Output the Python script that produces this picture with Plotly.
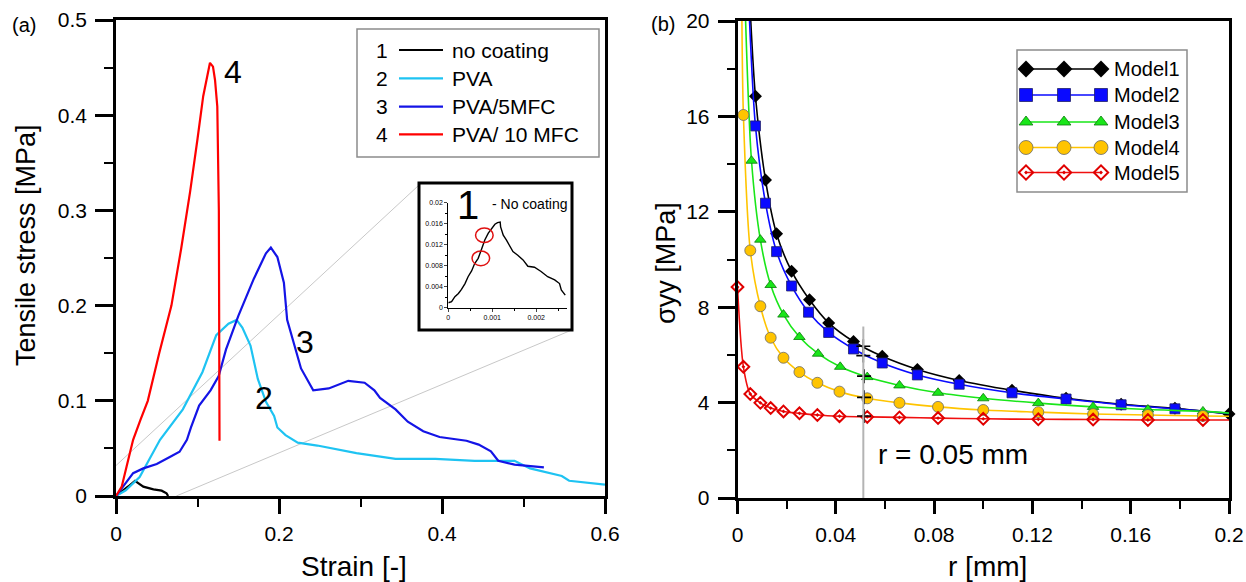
import plotly.graph_objects as go

W, H = 1246, 582
FONT = "Liberation Sans, Arial, sans-serif"

# ---------------- Panel (a): tensile curves ----------------
strain_1 = [0, 0.008, 0.015, 0.0233, 0.027, 0.0335, 0.046, 0.056, 0.062, 0.064]
stress_1 = [0, 0.005, 0.010, 0.016, 0.014, 0.0098, 0.007, 0.0056, 0.0028, 0.0]

strain_2 = [0, 0.012, 0.029, 0.054, 0.082, 0.106, 0.123, 0.138, 0.148, 0.155, 0.165,
            0.174, 0.184, 0.194, 0.198, 0.208, 0.223, 0.247, 0.295, 0.343, 0.392,
            0.44, 0.489, 0.508, 0.547, 0.556, 0.6]
stress_2 = [0, 0.006, 0.020, 0.059, 0.091, 0.130, 0.169, 0.181, 0.185, 0.177, 0.158,
            0.123, 0.099, 0.084, 0.072, 0.064, 0.056, 0.053, 0.045, 0.039, 0.039,
            0.037, 0.037, 0.029, 0.021, 0.016, 0.012]

strain_3 = [0, 0.009, 0.021, 0.0335, 0.05, 0.066, 0.078, 0.087, 0.092, 0.102, 0.116,
            0.126, 0.135, 0.15, 0.169, 0.184, 0.19, 0.198, 0.206, 0.21, 0.218, 0.227,
            0.242, 0.261, 0.285, 0.305, 0.317, 0.324, 0.343, 0.358, 0.377, 0.397,
            0.43, 0.445, 0.46, 0.469, 0.489, 0.525]
stress_3 = [0, 0.0098, 0.024, 0.029, 0.0336, 0.041, 0.0465, 0.059, 0.072, 0.095, 0.111,
            0.126, 0.154, 0.189, 0.228, 0.255, 0.261, 0.251, 0.224, 0.185, 0.161, 0.134,
            0.111, 0.113, 0.121, 0.119, 0.111, 0.103, 0.091, 0.078, 0.068, 0.062,
            0.058, 0.054, 0.047, 0.037, 0.033, 0.030]

strain_4 = [0, 0.007, 0.013, 0.021, 0.030, 0.039, 0.053, 0.068, 0.080, 0.091, 0.100,
            0.107, 0.1153, 0.119, 0.1215, 0.1243, 0.1262, 0.127]
stress_4 = [0, 0.0098, 0.031, 0.059, 0.080, 0.100, 0.150, 0.200, 0.260, 0.320, 0.375,
            0.420, 0.455, 0.451, 0.437, 0.409, 0.300, 0.058]

labels_a = ["no coating", "PVA", "PVA/5MFC", "PVA/ 10 MFC"]
numbers_a = ["1", "2", "3", "4"]
colors_a = ["#000000", "#1EC3F2", "#1414E6", "#FF0000"]

# curve number labels placed in the plot (data coords)
curve_tag_x = [0.1436, 0.232, 0.1814]
curve_tag_y = [0.4457, 0.1615, 0.103]
curve_tag_t = ["4", "3", "2"]

# inset: no coating, zoomed
inset_strain = [0, 0.000075, 0.00015, 0.00023, 0.0003, 0.00038, 0.00045, 0.00053, 0.0006,
                0.00068, 0.00075, 0.00083, 0.00091, 0.001, 0.00106, 0.00112, 0.00118,
                0.00119, 0.00125, 0.00132, 0.0014, 0.00147, 0.00158, 0.0017, 0.00181,
                0.00196, 0.00211, 0.00226, 0.00242, 0.00253, 0.00257, 0.00266]
inset_stress = [0.00095, 0.00114, 0.0021, 0.0027, 0.0035, 0.0046, 0.0059, 0.007, 0.0084,
                0.0094, 0.011, 0.0129, 0.0142, 0.0151, 0.0159, 0.0162, 0.0163,
                0.0154, 0.0138, 0.0129, 0.0116, 0.0107, 0.0100, 0.0091, 0.0079,
                0.0077, 0.0069, 0.0059, 0.0053, 0.0046, 0.0034, 0.0024]
inset_circle_x = [0.00074, 0.00082]
inset_circle_y = [0.0094, 0.0138]
inset_circle_rx = 0.0002
inset_circle_ry = 0.0014

# zoom connector lines (data coords of panel a)
connector_x = [[0.0, 0.371], [0.074, 0.561]]
connector_y = [[0.032, 0.326], [0.0, 0.175]]

# ---------------- Panel (b): sigma_yy vs r ----------------
m1_r = [0.0073, 0.0114, 0.0159, 0.022, 0.0293, 0.0371, 0.0472, 0.0589, 0.0732, 0.0902,
        0.1117, 0.1337, 0.1561, 0.178, 0.2]
m1_s = [16.85, 13.33, 11.08, 9.51, 8.31, 7.34, 6.56, 5.94, 5.39, 4.93, 4.52, 4.18, 3.93,
        3.76, 3.52]
m1_line_r = [0.0054] + m1_r
m1_line_s = [20.0] + m1_s

m2_r = [0.0073, 0.0114, 0.0159, 0.022, 0.0289, 0.0371, 0.0472, 0.0589, 0.0732, 0.0902,
        0.1117, 0.1337, 0.1561, 0.178]
m2_s = [15.6, 12.36, 10.33, 8.89, 7.79, 6.94, 6.25, 5.66, 5.16, 4.77, 4.41, 4.15, 3.91, 3.74]
m2_line_r = [0.0049] + m2_r + [0.2]
m2_line_s = [20.0] + m2_s + [3.55]

m3_r = [0.0057, 0.0093, 0.0135, 0.0187, 0.0252, 0.0328, 0.0418, 0.0528, 0.0659, 0.0816,
        0.1, 0.1224, 0.1447, 0.167, 0.1894]
m3_s = [14.14, 10.83, 8.93, 7.69, 6.75, 6.05, 5.5, 5.07, 4.72, 4.41, 4.18, 3.98, 3.82,
        3.71, 3.63]
m3_line_r = [0.0033] + m3_r + [0.2]
m3_line_s = [20.0] + m3_s + [3.56]

m4_r = [0.0024, 0.0052, 0.0093, 0.0135, 0.0187, 0.0252, 0.0325, 0.0415, 0.0528, 0.0659,
        0.0816, 0.1, 0.1224, 0.1447, 0.167, 0.1894]
m4_s = [16.06, 10.38, 8.04, 6.72, 5.88, 5.28, 4.83, 4.46, 4.18, 3.99, 3.82, 3.69, 3.6,
        3.52, 3.48, 3.44]
m4_line_r = [0.0018] + m4_r + [0.2]
m4_line_s = [20.0] + m4_s + [3.43]

m5_r = [0.0, 0.0024, 0.0052, 0.0093, 0.0135, 0.0187, 0.0252, 0.0325, 0.0415, 0.0528,
        0.0659, 0.0816, 0.1, 0.1224, 0.1447, 0.167, 0.1894]
m5_s = [8.85, 5.5, 4.36, 3.99, 3.77, 3.63, 3.55, 3.48, 3.43, 3.4, 3.38, 3.35, 3.32, 3.3,
        3.29, 3.27, 3.27]
m5_line_r = m5_r + [0.2]
m5_line_s = m5_s + [3.27]

cross_r = [0.0512, 0.0512, 0.0515, 0.0515, 0.0515]
cross_s = [6.36, 5.97, 5.11, 4.22, 3.44]

ref_r = 0.0512
ref_top = 7.19

model_names = ["Model1", "Model2", "Model3", "Model4", "Model5"]

# ---------------- helpers (pixel -> paper) ----------------
def px(x):
    return x / W


def py(y):
    return 1 - y / H


fig = go.Figure()

# panel (a) curves
for xs, ys, c in zip([strain_1, strain_2, strain_3, strain_4],
                     [stress_1, stress_2, stress_3, stress_4], colors_a):
    fig.add_trace(go.Scatter(x=xs, y=ys, mode="lines", line=dict(color=c, width=2.2),
                             xaxis="x", yaxis="y", showlegend=False, hoverinfo="skip"))

# inset
fig.add_trace(go.Scatter(x=inset_strain, y=inset_stress, mode="lines",
                         line=dict(color="black", width=1.4), xaxis="x3", yaxis="y3",
                         showlegend=False))

# panel (b) curves
styles = [
    dict(color="#000000", line="#000000", symbol="diamond", size=10, mline=dict(width=0)),
    dict(color="#0A0AFF", line="#0A0AFF", symbol="square", size=10,
         mline=dict(width=0.8, color="#20206A")),
    dict(color="#19E619", line="#19E619", symbol="triangle-up", size=10,
         mline=dict(width=0.8, color="#0A7A0A")),
    dict(color="#FFC400", line="#FFC400", symbol="circle", size=11,
         mline=dict(width=0.8, color="#6A6A6A")),
    dict(color="#E00000", line="#F01010", symbol="diamond-open-dot", size=9,
         mline=dict(width=2, color="#E00000")),
]
line_sets = [(m1_line_r, m1_line_s), (m2_line_r, m2_line_s), (m3_line_r, m3_line_s),
             (m4_line_r, m4_line_s), (m5_line_r, m5_line_s)]
mark_sets = [(m1_r, m1_s), (m2_r, m2_s), (m3_r, m3_s), (m4_r, m4_s), (m5_r, m5_s)]

for (lr, ls), (mr, ms), st in zip(line_sets, mark_sets, styles):
    fig.add_trace(go.Scatter(x=lr, y=ls, mode="lines",
                             line=dict(color=st["line"], width=1.6, shape="spline",
                                       smoothing=0.8),
                             xaxis="x2", yaxis="y2", showlegend=False))
    fig.add_trace(go.Scatter(x=mr, y=ms, mode="markers", cliponaxis=False,
                             marker=dict(symbol=st["symbol"], size=st["size"],
                                         color=st["color"], line=st["mline"]),
                             xaxis="x2", yaxis="y2", showlegend=False))

fig.add_trace(go.Scatter(x=cross_r, y=cross_s, mode="markers",
                         marker=dict(symbol="cross-thin", size=10,
                                     line=dict(width=1.6, color="black")),
                         xaxis="x2", yaxis="y2", showlegend=False))

# ---------------- pixel-space overlay (legends / decorations) ----------------
# right legend samples
leg_b_x = [1026, 1064, 1101]
leg_b_y = [69, 95, 122, 147.5, 172.5]
leg_sizes = [13, 13, 12, 14, 11]
for st, yy, sz in zip(styles, leg_b_y, leg_sizes):
    fig.add_trace(go.Scatter(x=leg_b_x, y=[yy] * 3, mode="lines+markers",
                             line=dict(color=st["line"], width=1.6),
                             marker=dict(symbol=st["symbol"], size=sz, color=st["color"],
                                         line=st["mline"]),
                             xaxis="x4", yaxis="y4", showlegend=False, cliponaxis=False))
# left legend samples
leg_a_y = [50, 78.3, 106.7, 134.3]
for c, yy in zip(colors_a, leg_a_y):
    fig.add_trace(go.Scatter(x=[399, 443], y=[yy, yy], mode="lines",
                             line=dict(color=c, width=2.2),
                             xaxis="x4", yaxis="y4", showlegend=False))

axis_common = dict(showline=True, linecolor="black", showgrid=False, zeroline=False,
                   ticks="outside", tickcolor="black", automargin=False,
                   tickfont=dict(family=FONT, size=21, color="black"))

fig.update_layout(
    template="none",
    width=W, height=H,
    margin=dict(l=0, r=0, t=0, b=0, pad=0),
    paper_bgcolor="white", plot_bgcolor="rgba(0,0,0,0)",
    font=dict(family=FONT, color="black"),
    showlegend=False,
    xaxis=dict(domain=[px(116), px(605)], range=[0, 0.6], anchor="y",
               tickvals=[0, 0.2, 0.4, 0.6], ticklen=15, tickwidth=2.5, linewidth=2.5,
               mirror=True, ticklabelstandoff=2,
               minor=dict(tickvals=[0.1, 0.3, 0.5], ticklen=8, tickwidth=2,
                          ticks="outside", tickcolor="black"),
               **axis_common),
    yaxis=dict(domain=[py(496), py(20)], range=[0, 0.5], anchor="x",
               dtick=0.1, ticklen=18, tickwidth=2.5, linewidth=2.5, mirror=True,
               ticklabelstandoff=4,
               minor=dict(dtick=0.05, ticklen=9, tickwidth=2, ticks="outside",
                          tickcolor="black"),
               **axis_common),
    xaxis2=dict(domain=[px(737.5), px(1229)], range=[0, 0.2], anchor="y2",
                dtick=0.04, ticklen=13, tickwidth=2.5, linewidth=2.5, mirror=True,
                ticklabelstandoff=3,
                minor=dict(dtick=0.02, ticklen=8, tickwidth=2, ticks="outside",
                           tickcolor="black"),
                **axis_common),
    yaxis2=dict(domain=[py(498), py(21)], range=[0, 20], anchor="x2",
                dtick=4, ticklen=17, tickwidth=2.5, linewidth=2.5, mirror=True,
                ticklabelstandoff=4,
                minor=dict(dtick=2, ticklen=8, tickwidth=2, ticks="outside",
                           tickcolor="black"),
                **axis_common),
    xaxis3=dict(domain=[px(448.3), px(567)], range=[0, 0.0027], anchor="y3",
                showline=True, linecolor="black", linewidth=1, showgrid=False,
                zeroline=False, ticks="outside", ticklen=3, tickwidth=1, automargin=False,
                tickvals=[0, 0.001, 0.002], ticktext=["0", "0.001", "0.002"],
                minor=dict(tickvals=[0.0005, 0.0015, 0.0025], ticklen=2, ticks="outside",
                           tickcolor="black"),
                tickfont=dict(family=FONT, size=7, color="black")),
    yaxis3=dict(domain=[py(307.7), py(202.7)], range=[0, 0.02], anchor="x3",
                showline=True, linecolor="black", linewidth=1, showgrid=False,
                zeroline=False, ticks="outside", ticklen=3, tickwidth=1, automargin=False,
                tickvals=[0, 0.004, 0.008, 0.012, 0.016, 0.02],
                ticktext=["0", "0.004", "0.008", "0.012", "0.016", "0.02"],
                minor=dict(dtick=0.002, ticklen=2, ticks="outside", tickcolor="black"),
                tickfont=dict(family=FONT, size=7, color="black")),
    xaxis4=dict(domain=[0, 1], range=[0, W], anchor="y4", visible=False, fixedrange=True,
                automargin=False),
    yaxis4=dict(domain=[0, 1], range=[H, 0], anchor="x4", visible=False, fixedrange=True,
                automargin=False),
)

shapes = []
# connector lines
for cx, cy in zip(connector_x, connector_y):
    shapes.append(dict(type="line", xref="x", yref="y", x0=cx[0], y0=cy[0], x1=cx[1],
                       y1=cy[1], line=dict(color="#C8C8C8", width=1), layer="below"))
# inset frame
shapes.append(dict(type="rect", xref="x4", yref="y4", x0=419, y0=183, x1=572, y1=330,
                   line=dict(color="black", width=3)))
# legend boxes
shapes.append(dict(type="rect", xref="x4", yref="y4", x0=357, y0=29, x1=599, y1=157,
                   line=dict(color="#8C8C8C", width=1.5)))
shapes.append(dict(type="rect", xref="x4", yref="y4", x0=1017, y0=50, x1=1187, y1=192,
                   line=dict(color="#8C8C8C", width=1.5)))
# inset red circles
for cx, cy in zip(inset_circle_x, inset_circle_y):
    shapes.append(dict(type="circle", xref="x3", yref="y3",
                       x0=cx - inset_circle_rx, x1=cx + inset_circle_rx,
                       y0=cy - inset_circle_ry, y1=cy + inset_circle_ry,
                       line=dict(color="#E01010", width=1.5)))
# reference line r = 0.05 mm
shapes.append(dict(type="line", xref="x2", yref="y2", x0=ref_r, x1=ref_r, y0=0,
                   y1=ref_top, line=dict(color="#B4B4B4", width=2)))
fig.update_layout(shapes=shapes)

ann = []


def text(x, y, t, size, xref="x4", yref="y4", xanchor="center", angle=0):
    ann.append(dict(x=x, y=y, xref=xref, yref=yref, text=t, showarrow=False,
                    xanchor=xanchor, yanchor="middle", textangle=angle,
                    font=dict(family=FONT, size=size, color="black")))


# panel labels
text(24, 25, "(a)", 20)
text(663, 24, "(b)", 20)
# axis titles
text(26, 245, "Tensile stress [MPa]", 27, angle=-90)
text(354, 566, "Strain [-]", 28)
text(666, 263, "σyy [MPa]", 27, angle=-90)
text(987, 566, "r [mm]", 28)
# curve tags
for tx, ty, tt in zip(curve_tag_x, curve_tag_y, curve_tag_t):
    text(tx, ty, tt, 32, xref="x", yref="y")
# inset texts
text(0.00045, 0.0195, "1", 40, xref="x3", yref="y3")
text(0.00094, 0.0198, "- No coating", 14, xref="x3", yref="y3", xanchor="left")
# left legend
for n, lab, yy in zip(numbers_a, labels_a, leg_a_y):
    text(382, yy, n, 21)
    text(450, yy, lab, 21, xanchor="left")
# right legend
for lab, yy in zip(model_names, leg_b_y):
    text(1112, yy, lab, 20, xanchor="left")
# reference note
text(0.0878, 1.84, "r = 0.05 mm", 28, xref="x2", yref="y2")

fig.update_layout(annotations=ann)

fig.write_html("out.html",
               config={"displayModeBar": False},
               post_script="document.body.style.margin='0px';"
                           "document.body.style.overflow='hidden';")
